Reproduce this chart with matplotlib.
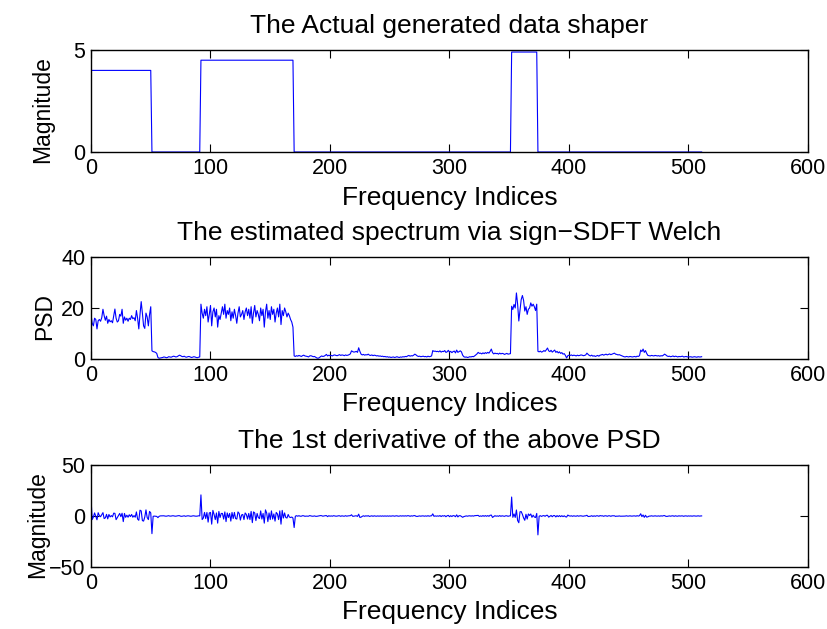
import numpy as np
import matplotlib
matplotlib.use("Agg")
import matplotlib.pyplot as plt

# ---- data ----
shaper_levels = [4.0, 0.0, 4.5, 0.0, 4.9, 0.0]
shaper_lengths = [51, 41, 78, 182, 22, 138]

psd_band1 = [17.5, 14.0, 13.0, 16.0, 15.5, 11.8, 15.0, 15.5, 14.8, 16.2,
             19.5, 17.0, 15.2, 16.8, 14.0, 15.5, 14.6, 15.0, 14.2, 17.0,
             19.6, 16.0, 14.5, 15.0, 17.5, 16.8, 19.5, 14.0, 16.5, 15.2,
             16.0, 14.8, 16.0, 15.5, 17.0, 15.8, 16.2, 15.0, 19.0, 16.0,
             11.8, 17.5, 22.5, 18.0, 13.0, 12.0, 18.0, 16.5, 13.0, 17.5,
             20.5]
psd_low1 = [3.2, 2.9, 2.8, 2.6, 2.2, 0.6, 0.3, 0.4, 0.5, 0.6,
            0.8, 0.7, 0.5, 0.6, 0.9, 0.8, 0.7, 0.9, 1.1, 1.0,
            0.8, 0.9, 1.2, 1.5, 1.3, 1.0, 0.9, 1.1, 0.8, 0.7,
            0.9, 1.0, 0.8, 0.6, 0.7, 0.9, 0.8, 0.6, 0.5, 0.7,
            0.8]
psd_band2 = [21.5, 18.0, 16.0, 19.5, 17.0, 20.5, 14.5, 17.5, 21.0, 13.0,
             18.5, 20.0, 16.5, 19.5, 12.5, 17.0, 15.5, 18.0, 20.5, 17.5,
             21.5, 16.0, 19.0, 17.5, 20.0, 15.0, 18.5, 16.0, 19.5, 17.0,
             14.0, 18.0, 20.5, 16.5, 17.5, 19.0, 15.5, 18.5, 20.0, 17.0,
             19.5, 16.0, 20.5, 14.0, 18.0, 21.0, 16.5, 19.0, 17.5, 15.0,
             20.0, 17.0, 19.5, 12.5, 18.5, 21.5, 16.0, 19.0, 15.5, 20.5,
             17.5, 19.5, 14.5, 18.0, 20.0, 16.5, 21.5, 13.5, 19.0, 17.0,
             20.0, 18.5, 16.5, 18.0, 17.0, 15.5, 14.5, 12.5]
psd_low2 = [1.2, 1.0, 1.3, 1.1, 1.4, 1.2, 1.0, 1.3, 1.5, 1.2,
            1.1, 1.0, 0.8, 1.2, 1.3, 1.1, 0.9, 1.0, 0.7, 0.4,
            0.3, 0.5, 0.9, 1.2, 1.0, 1.1, 1.4, 1.8, 1.2, 1.5,
            1.3, 1.4, 1.2, 1.5, 1.6, 1.4, 1.3, 1.5, 1.7, 1.4,
            1.6, 1.5, 1.3, 1.6, 1.4, 1.5, 1.7, 2.0, 3.2, 2.9,
            2.7, 2.8, 3.0, 2.6, 4.4, 3.0, 1.9, 1.6, 1.8, 1.5,
            1.7, 1.6, 1.9, 1.5, 1.4, 1.6, 1.3, 1.5, 1.4, 1.2,
            1.3, 1.1, 1.2, 1.0, 1.1, 0.9, 1.0, 0.8, 0.9, 0.7,
            0.8, 0.6, 0.7, 0.8, 0.6, 0.7, 0.9, 0.7, 0.6, 0.8,
            0.7, 0.9, 0.8, 1.0, 0.9, 1.2, 1.4, 1.1, 1.3, 1.2,
            1.5, 1.9, 1.6, 1.2, 1.0, 1.1, 0.9, 1.0, 1.1, 0.9,
            1.0, 0.8, 1.1, 0.9, 1.0, 1.2, 3.3, 3.0, 3.1, 2.9,
            3.0, 2.8, 3.2, 2.7, 3.0, 2.9, 3.3, 2.6, 2.8, 3.4,
            2.7, 3.0, 2.5, 2.9, 3.1, 2.4, 3.5, 2.6, 2.9, 3.2,
            2.8, 1.5, 0.9, 0.7, 0.8, 0.6, 0.7, 0.9, 0.8, 1.0,
            0.9, 1.2, 1.6, 2.0, 2.6, 2.2, 2.3, 2.0, 2.4, 2.1,
            2.5, 2.2, 2.6, 2.3, 3.0, 3.9, 2.5, 2.0, 2.3, 2.1,
            2.2, 1.9, 2.3, 2.0, 2.2, 2.1, 1.8, 2.0, 2.2, 1.9,
            2.0, 2.1]
psd_band3 = [20.7, 19.4, 21.4, 20.0, 25.9, 21.5, 14.9, 19.0, 23.3, 24.9,
             23.0, 18.8, 20.5, 17.5, 19.5, 20.0, 22.0, 20.7, 21.5, 20.5,
             19.0, 21.5]
psd_low3 = [3.0, 2.8, 3.1, 2.7, 2.9, 3.3, 3.0, 3.6, 4.3, 3.2,
            2.9, 3.4, 2.7, 3.1, 3.5, 2.6, 3.0, 2.4, 2.8, 2.2,
            2.5, 1.9, 2.1, 1.4, 0.4, 1.3, 1.5, 1.4, 1.6, 1.3,
            1.5, 1.4, 1.2, 1.5, 1.3, 1.4, 1.6, 1.5, 1.3, 1.4,
            1.6, 2.3, 1.8, 1.4, 1.2, 1.5, 1.1, 1.3, 1.0, 1.2,
            1.4, 1.1, 1.5, 1.6, 1.8, 1.5, 1.7, 1.9, 1.6, 1.8,
            2.0, 1.7, 1.9, 2.1, 2.3, 1.9, 1.8, 1.6, 1.7, 1.5,
            1.3, 1.1, 0.9, 0.8, 1.0, 0.9, 0.8, 1.0, 0.9, 0.8,
            0.9, 1.0, 0.8, 1.1, 1.0, 1.3, 3.5, 2.9, 3.9, 2.6,
            3.3, 2.2, 1.4, 1.3, 1.2, 1.4, 1.3, 1.2, 1.4, 1.3,
            1.2, 1.3, 1.1, 1.3, 1.2, 1.5, 1.9, 1.6, 1.2, 1.0,
            1.1, 0.9, 1.0, 1.2, 0.9, 1.1, 1.0, 0.8, 1.0, 0.9,
            1.0, 1.1, 0.8, 0.9, 1.0, 0.8, 0.9, 0.8, 0.9, 0.7,
            0.8, 0.9, 0.8, 0.7, 0.9, 0.8, 0.8, 0.9]

titles = ["The Actual generated data shaper",
          "The estimated spectrum via sign\u2212SDFT Welch",
          "The 1st derivative of the above PSD"]
ylabels = ["Magnitude", "PSD", "Magnitude"]
xlabel = "Frequency Indices"
xticks = [0, 100, 200, 300, 400, 500, 600]
yticks_list = [[0, 5], [0, 20, 40], [-50, 0, 50]]
ylims = [(0, 5), (0, 40), (-50, 50)]

# ---- derived series ----
shaper = np.repeat(shaper_levels, shaper_lengths)
psd = np.array(psd_band1 + psd_low1 + psd_band2 + psd_low2 + psd_band3 + psd_low3)
deriv = np.diff(psd, prepend=0.0)
series = [shaper, psd, deriv]

# ---- figure ----
plt.rcParams["font.family"] = ["Liberation Sans", "DejaVu Sans"]

fig = plt.figure(figsize=(8.28, 6.29), dpi=100)
left, width, height = 91 / 828, 717 / 828, 102 / 629
bottoms = [1 - 152 / 629, 1 - 359 / 629, 1 - 567 / 629]
ylabel_x = [-0.052, -0.049, -0.059]

for k in range(3):
    ax = fig.add_axes([left, bottoms[k], width, height])
    y = series[k]
    ax.plot(np.arange(len(y)), y, color="#0000ff", lw=0.8)
    ax.set_xlim(0, 600)
    ax.set_ylim(*ylims[k])
    ax.set_xticks(xticks)
    ax.set_yticks(yticks_list[k])
    ax.tick_params(direction="in", length=6, width=0.8, top=True, right=True,
                   labelsize=15.5, pad=4, colors="black")
    for s in ax.spines.values():
        s.set_linewidth(1.0)
    ax.set_title(titles[k], fontsize=19, pad=12)
    ax.set_xlabel(xlabel, fontsize=19, labelpad=5)
    ax.set_ylabel(ylabels[k], fontsize=16.5)
    ax.yaxis.set_label_coords(ylabel_x[k], 0.42)

fig.savefig("out.png", dpi=100)
